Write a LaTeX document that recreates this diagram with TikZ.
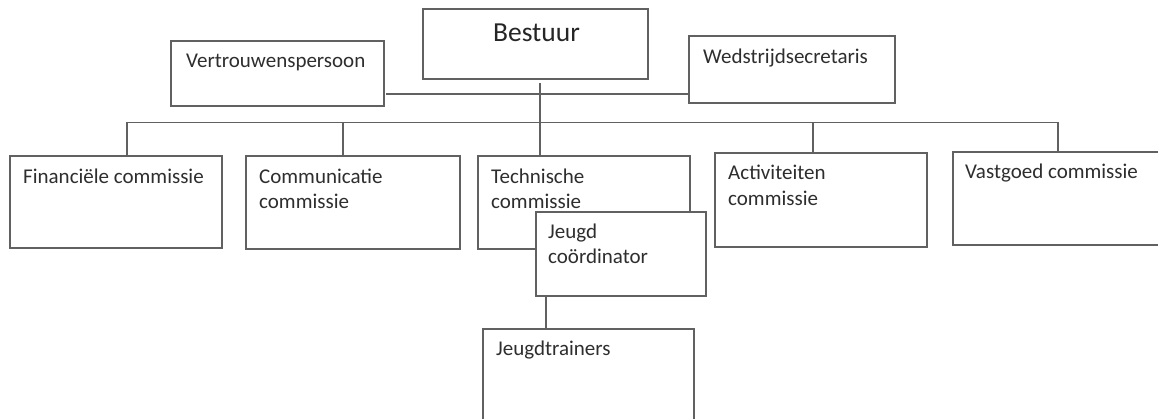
\documentclass[tikz,border=0pt]{standalone}
\usepackage{fontspec}
\setmainfont{Carlito}
\begin{document}
\begin{tikzpicture}[x=1pt,y=-1pt,
  box/.style={draw=black!62,line width=1.1pt,fill=white,inner sep=0pt,outer sep=0pt},
  txt/.style={anchor=north west,inner sep=0pt,align=left,text=black!82,font=\fontsize{21}{25.5}\selectfont},
  conn/.style={draw=black!62,line width=1.1pt}]
\clip (0,0) rectangle (1158,419);
\fill[white] (0,0) rectangle (1158,419);
% boxes
\node[box,minimum width=225pt,minimum height=70pt] (bestuur) at (535.5,44) {};
\node[box,minimum width=213pt,minimum height=65pt] (vert) at (277.5,73.5) {};
\node[box,minimum width=206pt,minimum height=67pt] (wed) at (792,69.5) {};
\node[box,minimum width=212pt,minimum height=92pt] (fin) at (116,202) {};
\node[box,minimum width=214pt,minimum height=93pt] (comm) at (353,202.5) {};
\node[box,minimum width=212pt,minimum height=93pt] (tech) at (584,202.5) {};
\node[box,minimum width=212pt,minimum height=94pt] (act) at (821,200) {};
\node[box,minimum width=300pt,minimum height=93pt] (vast) at (1103,198.5) {};
% texts
\node[anchor=base,inner sep=0pt,text=black!85,font=\fontsize{27.5}{32}\selectfont] (tB) at (536.5,42) {Bestuur};
\node[txt] (tV) at (186,54) {Vertrouwenspersoon};
\node[txt] (tW) at (703,49) {Wedstrijdsecretaris};
\node[txt] (tF) at (23,168.5) {Financiële commissie};
\node[txt] (tC) at (259,168.5) {Communicatie\\commissie};
\node[txt] (tT) at (491,168.5) {Technische\\commissie};
\node[txt] (tA) at (728,165) {Activiteiten\\commissie};
\node[txt] (tVa) at (965,163.5) {Vastgoed commissie};
\node[box,minimum width=211pt,minimum height=120pt] (train) at (588.5,389) {};
\node[txt] (tTr) at (496,340.5) {Jeugdtrainers};
% connectors
\coordinate (busL) at (127,122.5);
\coordinate (busR) at (1058,122.5);
\coordinate (jC) at (343,122.5);
\coordinate (jA) at (813,122.5);
\coordinate (bTop) at (540,83);
\coordinate (vw) at (386,94);
\coordinate (ct) at (546,296);
\draw[conn] (busL) -- (busR);
\draw[conn] (busL) -- (busL |- fin.north);
\draw[conn] (jC) -- (jC |- comm.north);
\draw[conn] (jA) -- (jA |- act.north);
\draw[conn] (busR) -- (busR |- vast.north);
\draw[conn] (bTop) -- (bTop |- tech.north);
\draw[conn] (vw) -- (vw -| wed.west);
% coordinator on top of Technische commissie
\node[box,minimum width=170pt,minimum height=84pt] (coord) at (621,254) {};
\node[txt] (tJ) at (548,223.5) {Jeugd\\coördinator};
\draw[conn] (ct |- coord.south) -- (ct |- train.north);
\end{tikzpicture}
\end{document}
